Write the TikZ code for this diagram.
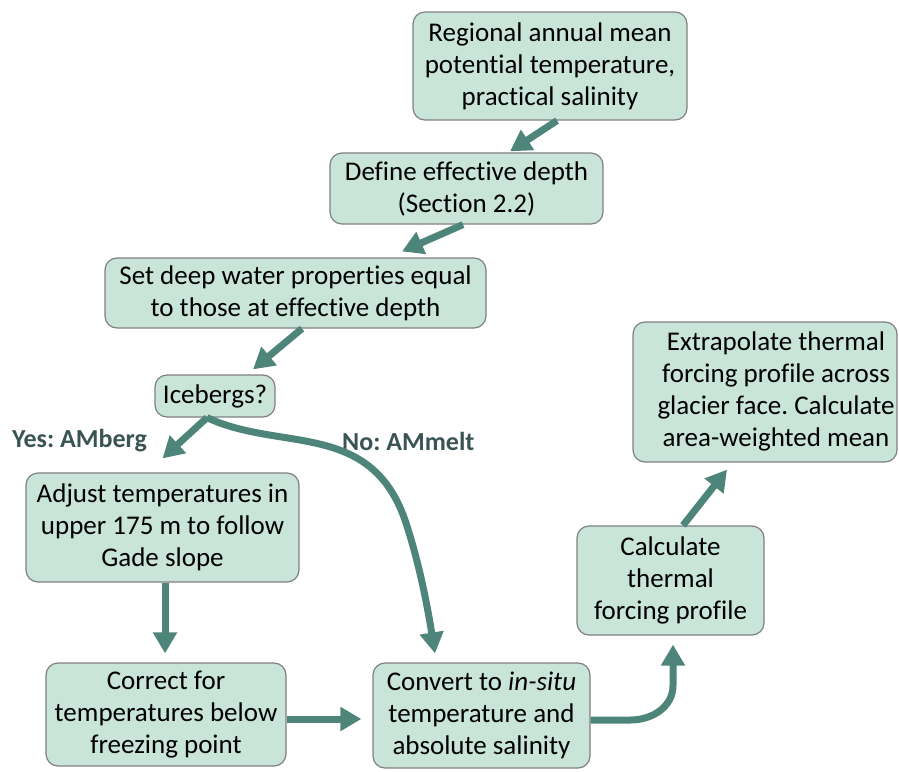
\documentclass[tikz,border=0pt]{standalone}
\usepackage{fontspec}
\setmainfont{Carlito}[Ligatures=NoCommon]
\usetikzlibrary{arrows.meta}
\frenchspacing
\definecolor{boxfill}{HTML}{C9E4D8}
\definecolor{boxdraw}{HTML}{7F7F7F}
\definecolor{arrowc}{HTML}{4E857A}
\definecolor{labelc}{HTML}{3A5454}
\tikzset{
  stepbox/.style={draw=boxdraw, line width=1.2pt, fill=boxfill, rounded corners=12pt,
    align=center, inner sep=0pt, font=\fontsize{27}{32}\selectfont},
  flow/.style={draw=arrowc, line width=7pt, -{Triangle[width=23pt,length=21pt]}},
  branch/.style={text=labelc, font=\fontsize{26}{30}\selectfont\bfseries, inner sep=0pt}
}
\begin{document}
\begin{tikzpicture}[x=1pt,y=1pt]
\useasboundingbox (0,0) rectangle (899,-771);
\node[stepbox, minimum width=274pt, minimum height=108pt] (n1) at (550,-66)
  {Regional annual mean\\potential temperature,\\practical salinity};
\node[stepbox, minimum width=273pt, minimum height=71pt] (n2) at (466.5,-188.5)
  {Define effective depth\\(Section 2.2)};
\node[stepbox, minimum width=381pt, minimum height=70pt] (n3) at (295.5,-293)
  {Set deep water properties equal\\to those at effective depth};
\node[stepbox, minimum width=120pt, minimum height=42pt] (n4) at (215,-396)
  {Icebergs?};
\node[stepbox, minimum width=273pt, minimum height=109pt] (n5) at (162.5,-527.5)
  {Adjust temperatures in\\upper 175 m to follow\\Gade slope};
\node[stepbox, minimum width=240pt, minimum height=103pt] (n6) at (166,-714.5)
  {Correct for\\temperatures below\\freezing point};
\node[stepbox, minimum width=217pt, minimum height=105pt] (n7) at (481.5,-715.5)
  {Convert to \textit{in-situ}\\temperature and\\absolute salinity};
\node[stepbox, minimum width=187pt, minimum height=109pt] (n8) at (670.5,-580.5)
  {Calculate\\thermal\\forcing profile};
\node[stepbox, minimum width=264pt, minimum height=140pt] (n9) at (765,-392)
  {\hspace*{22pt}\begin{tabular}{@{}c@{}}Extrapolate thermal\\forcing profile across\\glacier face. Calculate\\area-weighted mean\end{tabular}};

\node[branch, anchor=west] (yes) at (12,-441) {Yes: AMberg};
\node[branch, anchor=west] (no) at (342,-441) {No: AMmelt};

\draw[flow] ([xshift=7pt]n1.south) -- ([xshift=43.5pt,yshift=1pt]n2.north);
\draw[flow] ([xshift=-3.5pt]n2.south) -- ([xshift=106.5pt,yshift=6pt]n3.north);
\draw[flow] ([xshift=6.5pt]n3.south) -- ([xshift=38pt,yshift=5pt]n4.north);
\draw[flow] ([xshift=-8pt]n4.south) -- ([yshift=14pt]n5.north);
\draw[flow] ([xshift=-8pt]n4.south) .. controls (280,-452) and (370,-420) .. (405,-520)
  .. controls (420,-565) and (428,-610) .. ([xshift=-46.5pt,yshift=9pt]n7.north);
\draw[flow] ([xshift=2.5pt]n5.south) -- ([xshift=-1pt,yshift=9pt]n6.north);
\draw[flow] ([yshift=-4.5pt]n6.east) -- ([xshift=-11pt,yshift=-3.5pt]n7.west);
\draw[flow] ([yshift=-4.5pt]n7.east) -- ++(40,0) to[out=0,in=-90]
  ([xshift=2.5pt,yshift=-50pt]n8.south) -- ([xshift=2.5pt,yshift=-9pt]n8.south);
\draw[flow] ([xshift=12.5pt]n8.north) -- ([xshift=-38pt,yshift=-7pt]n9.south);
\end{tikzpicture}
\end{document}
